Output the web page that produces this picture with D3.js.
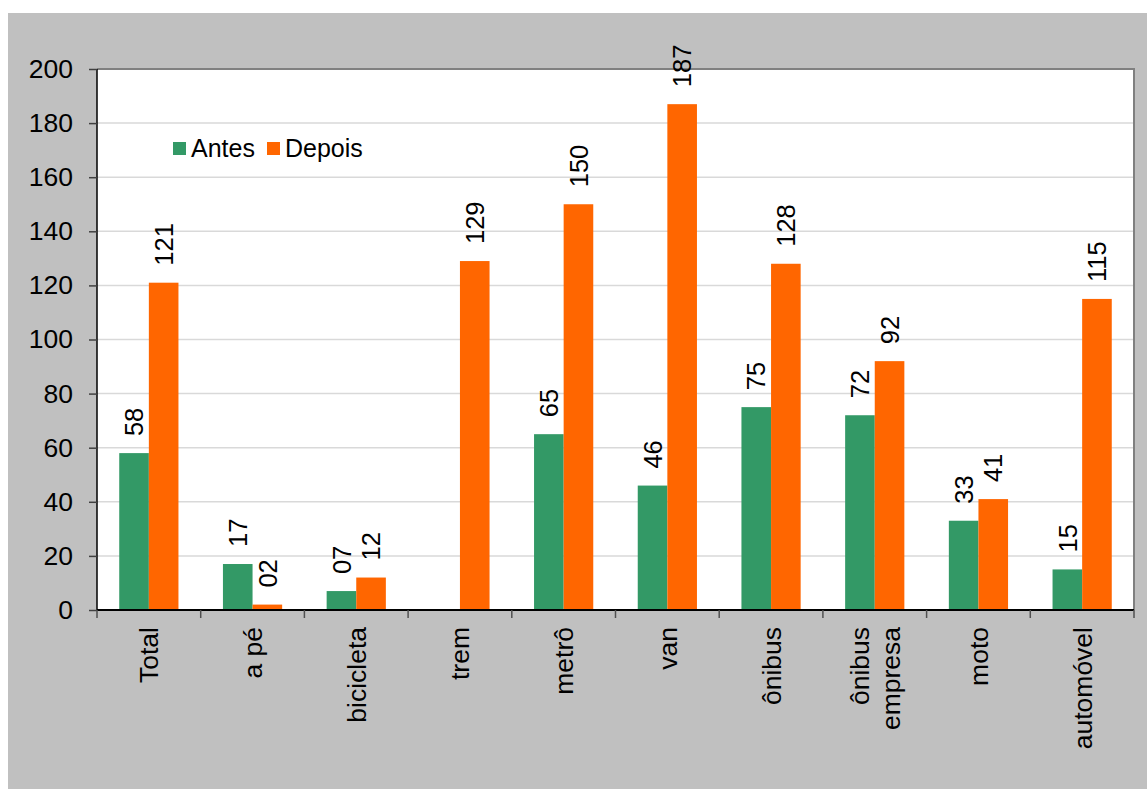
<!DOCTYPE html>
<html>
<head>
<meta charset="utf-8">
<script src="https://cdn.jsdelivr.net/npm/d3@7"></script>
<style>
  html, body { margin: 0; padding: 0; background: #ffffff; }
  svg { display: block; font-family: Arial, "Liberation Sans", sans-serif; }
</style>
</head>
<body>
<svg id="chart" width="1147" height="789"></svg>
<script>
// Travel modes (two-line labels split on "\n")
const categories = ["Total", "a pé", "bicicleta", "trem", "metrô", "van", "ônibus", "ônibus\nempresa", "moto", "automóvel"];
const seriesNames = ["Antes", "Depois"];
const antes  = [58, 17, 7, null, 65, 46, 75, 72, 33, 15];
const depois = [121, 2, 12, 129, 150, 187, 128, 92, 41, 115];
const yTicks = [0, 20, 40, 60, 80, 100, 120, 140, 160, 180, 200];
const colors = ["#339966", "#FF6600"];

const svg = d3.select("#chart");
const W = 1147, H = 789;
const plot = { left: 97, top: 69, right: 1134, bottom: 610 };

// outer grey chart area
svg.append("rect").attr("x", 8).attr("y", 13).attr("width", W - 8).attr("height", H - 13)
  .attr("fill", "#C0C0C0");

// white plot area
svg.append("rect").attr("x", plot.left).attr("y", plot.top)
  .attr("width", plot.right - plot.left).attr("height", plot.bottom - plot.top)
  .attr("fill", "#ffffff");

const y = d3.scaleLinear().domain([0, 200]).range([plot.bottom, plot.top]);
const x0 = d3.scaleBand().domain(categories).range([plot.left, plot.right]).padding(0);
const bw = x0.bandwidth();
const x1 = d3.scaleBand().domain(seriesNames).range([bw * 0.2145, bw * 0.7855]).padding(0);

// horizontal gridlines
svg.append("g").selectAll("line").data(yTicks.filter(t => t > 0 && t < 200)).join("line")
  .attr("x1", plot.left).attr("x2", plot.right)
  .attr("y1", d => y(d)).attr("y2", d => y(d))
  .attr("stroke", "#d9d9d9").attr("stroke-width", 1.5);

// plot frame: top and right edges
svg.append("path")
  .attr("d", `M${plot.left},${plot.top}H${plot.right}V${plot.bottom}`)
  .attr("fill", "none").attr("stroke", "#808080").attr("stroke-width", 2);

// bars
const rows = categories.map((c, i) => ({ cat: c, vals: [antes[i], depois[i]] }));
const groups = svg.append("g").selectAll("g").data(rows).join("g")
  .attr("transform", d => `translate(${x0(d.cat)},0)`);

groups.selectAll("rect")
  .data(d => d.vals.map((v, j) => ({ key: seriesNames[j], v, j })).filter(e => e.v != null))
  .join("rect")
  .attr("x", d => x1(d.key))
  .attr("width", x1.bandwidth())
  .attr("y", d => y(d.v))
  .attr("height", d => y(0) - y(d.v))
  .attr("fill", d => colors[d.j]);

// value labels, rotated
const fmt = d3.format("02d");
groups.selectAll("text.val")
  .data(d => d.vals.map((v, j) => ({ key: seriesNames[j], v, j })).filter(e => e.v != null))
  .join("text")
  .attr("class", "val")
  .attr("transform", d => `translate(${x1(d.key) + x1.bandwidth() / 2},${y(d.v) - 17}) rotate(-90)`)
  .attr("dy", "0.36em")
  .attr("text-anchor", "start")
  .attr("font-size", 25.5)
  .attr("fill", "#000")
  .text(d => fmt(d.v));

// y axis
const yAxis = d3.axisLeft(y).tickValues(yTicks).tickSize(8).tickPadding(16);
const gy = svg.append("g").attr("transform", `translate(${plot.left},0)`).call(yAxis);
gy.select(".domain").attr("stroke", "#000").attr("stroke-width", 1.5).attr("d", `M0,${plot.top}V${plot.bottom}`);
gy.selectAll(".tick line").attr("stroke", "#404040").attr("stroke-width", 1.5);
gy.selectAll(".tick text").attr("font-size", 26.5).attr("fill", "#000")
  .attr("font-family", "Arial, 'Liberation Sans', sans-serif");

// x axis baseline and boundary ticks
svg.append("line").attr("x1", plot.left).attr("x2", plot.right)
  .attr("y1", plot.bottom).attr("y2", plot.bottom)
  .attr("stroke", "#000").attr("stroke-width", 2);
const bounds = categories.map(c => x0(c)).concat([plot.right]);
svg.append("g").selectAll("line").data(bounds).join("line")
  .attr("x1", d => d).attr("x2", d => d)
  .attr("y1", plot.bottom).attr("y2", plot.bottom + 8)
  .attr("stroke", "#505050").attr("stroke-width", 1.5);

// category labels, rotated
const cl = svg.append("g").selectAll("text").data(categories).join("text")
  .attr("transform", d => `translate(${x0(d) + bw / 2},${plot.bottom + 17}) rotate(-90)`)
  .attr("text-anchor", "end")
  .attr("font-size", 26.5)
  .attr("fill", "#000");
cl.each(function(d) {
  const lines = d.split("\n");
  const t = d3.select(this);
  lines.forEach((ln, i) => {
    const off = (i - (lines.length - 1) / 2) * 1.18;
    t.append("tspan").attr("x", 0)
      .attr("y", `${(off + 0.36).toFixed(2)}em`).text(ln);
  });
});

// legend
const legend = svg.append("g").attr("transform", "translate(173,142)");
const legendX = [0, 94];
seriesNames.forEach((s, i) => {
  legend.append("rect").attr("x", legendX[i]).attr("y", 0).attr("width", 13).attr("height", 13)
    .attr("fill", colors[i]);
  legend.append("text").attr("x", legendX[i] + 18).attr("y", 15)
    .attr("font-size", 25).attr("fill", "#000").text(s);
});
</script>
</body>
</html>
